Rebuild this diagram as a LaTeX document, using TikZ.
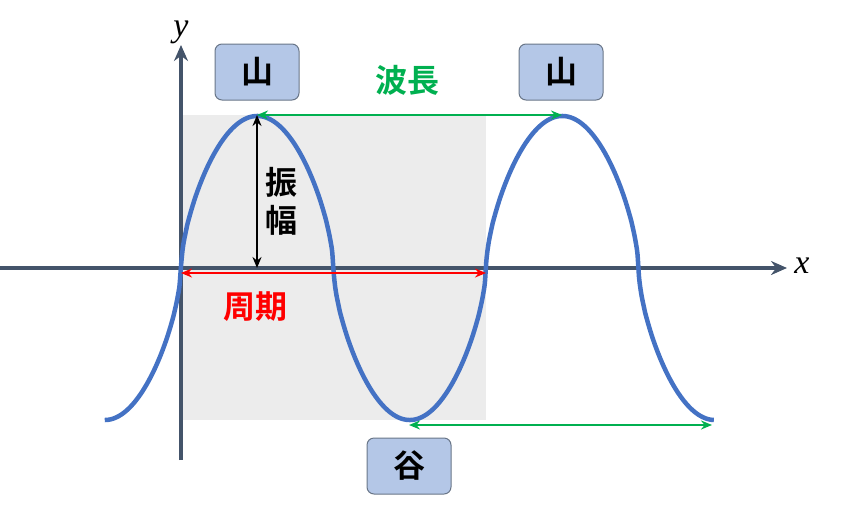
\documentclass[tikz,border=0pt]{standalone}
\usepackage{fontspec}
\newfontfamily\cjk{Noto Sans CJK JP}[BoldFont={Noto Sans CJK JP Bold}]
\newfontfamily\serifit{Liberation Serif}
\usetikzlibrary{arrows.meta}
\definecolor{wave}{RGB}{68,114,196}
\definecolor{axisc}{RGB}{68,84,106}
\definecolor{boxf}{RGB}{180,199,231}
\definecolor{grn}{RGB}{0,176,80}
\begin{document}
\begin{tikzpicture}[x=1pt,y=-1pt,
  jp/.style={font=\cjk\bfseries\fontsize{32}{34}\selectfont},
  ax/.style={font=\serifit\itshape\fontsize{34}{36}\selectfont},
  lab/.style={jp,draw=axisc!80,line width=1pt,fill=boxf,rounded corners=7pt,minimum width=84pt,minimum height=56pt},
  arr/.style={line width=2.2pt,{Stealth[length=11pt,width=9pt]}-{Stealth[length=11pt,width=9pt]}}]
\useasboundingbox (0,0) rectangle (850,514);
\fill[gray!15] (181,115) rectangle (486,420);
\draw[axisc,line width=3.5pt,-{Stealth[length=16pt,width=14pt]}] (0,268) -- (787,268);
\draw[axisc,line width=3.5pt,-{Stealth[length=16pt,width=14pt]}] (181,460) -- (181,45);
\node[ax] (y) at (181,32) {y};
\node[ax] (x) at (802,266) {x};
\draw[wave,line width=4.5pt,domain=-0.25:1.75,samples=400,smooth,variable=\t]
  plot ({181+305*\t},{268-152*sign(sin(360*\t))*abs(sin(360*\t))^0.62});
\node[lab] (m1) at (257,72) {山};
\node[lab] (m2) at (561,72) {山};
\node[lab] (v) at (409,466) {谷};
\coordinate (p1) at (257,115); \coordinate (p2) at (562,115);
\coordinate (t1) at (409,425); \coordinate (t2) at (712,425);
\coordinate (z0) at (257,268);
\coordinate (c1) at (181,273); \coordinate (c2) at (486,273);
\draw[arr,grn] (p1) -- (p2);
\draw[arr,grn] (t1) -- (t2);
\draw[arr,black] (p1) -- (z0);
\draw[arr,red] (c1) -- (c2);
\node[grn,jp] (wl) at (407,80) {波長};
\node[red,jp] (pd) at (255,307) {周期};
\node[jp,align=center,inner sep=0pt] (am) at (281,201) {振\\[4pt]幅};
\end{tikzpicture}
\end{document}
